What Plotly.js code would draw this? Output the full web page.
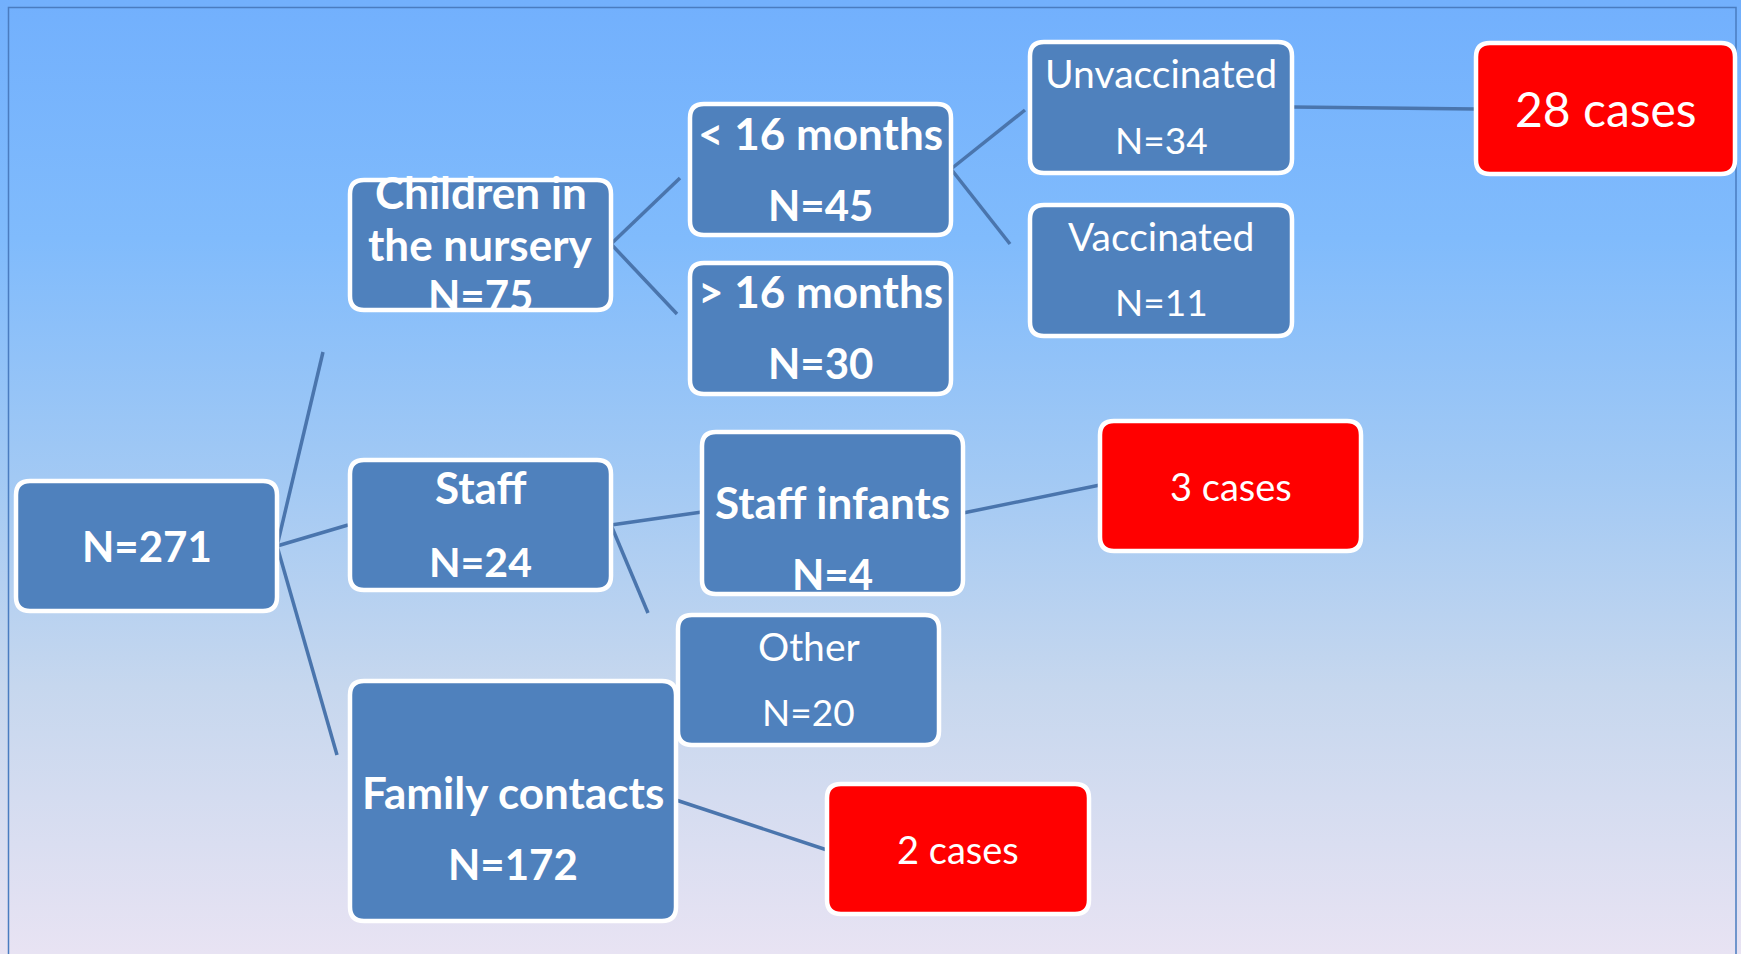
<!DOCTYPE html>
<html>
<head>
<meta charset="utf-8">
<script src="https://cdn.plot.ly/plotly-3.0.1.min.js"></script>
<style>
  html, body { margin: 0; padding: 0; }
  body {
    width: 1741px; height: 954px; overflow: hidden;
    background: linear-gradient(to bottom, #72b0fd 0%, #80bbfc 25%, #a2c9f4 50%, #c6d7ee 72%, #e8e3f3 100%);
  }
  #chart { width: 1741px; height: 954px; }
</style>
</head>
<body>
<div id="chart"></div>
<script>
// ---------- DATA ----------
const groupNames  = ['', 'Children in the nursery', 'Staff', 'Family contacts',
                     '< 16 months', '> 16 months', 'Unvaccinated', 'Vaccinated',
                     'Staff infants', 'Other'];
const groupCounts = [271, 75, 24, 172, 45, 30, 34, 11, 4, 20];
const caseCounts  = [28, 3, 2];

// ---------- LAYOUT GEOMETRY (pixels) ----------
// boxes: [x0, y0, x1, y1]
const groupBoxes = [
  [16, 481, 277, 611],
  [350, 180, 611, 310],
  [350, 460, 611, 590],
  [350, 681, 676, 921],
  [690, 104, 951, 235],
  [690, 263, 951, 394],
  [1030, 42, 1292, 173],
  [1030, 205, 1292, 336],
  [702, 432, 963, 594],
  [678, 615, 939, 745]
];
// text line centres (y) for each group box
const groupLineY = [
  [546],
  [192, 244, 295],
  [487, 561],
  [792, 864],
  [133, 205],
  [291, 363],
  [73, 139],
  [236, 301],
  [502, 574],
  [646, 711]
];
const groupBold      = [true, true, true, true, true, true, false, false, true, false];
const groupNameFont  = [42, 44, 44, 44, 44, 44, 39, 39, 44, 39];
const groupCountFont = [42, 42, 41, 42, 42, 42, 37, 37, 42, 37];

const caseBoxes = [
  [1476, 43, 1735, 174],
  [1100, 421, 1361, 551],
  [827, 784, 1089, 914]
];
const caseLineY = [108, 486, 849];
const caseFont  = [48, 38, 38];

// connector segments: [x0, y0, x1, y1]
const connectors = [
  [277, 546, 323, 352],
  [277, 546, 348, 525],
  [277, 546, 337, 755],
  [611, 244, 680, 178],
  [611, 244, 677, 314],
  [951, 169, 1025, 110],
  [951, 169, 1010, 244],
  [1292, 107, 1476, 109],
  [611, 525, 702, 512],
  [611, 525, 648, 613],
  [963, 513, 1100, 485],
  [676, 800, 827, 850]
];

// ---------- BUILD ----------
function rrect(b, r) {
  const [x0, y0, x1, y1] = b;
  return `M${x0 + r},${y0} L${x1 - r},${y0} Q${x1},${y0} ${x1},${y0 + r} ` +
         `L${x1},${y1 - r} Q${x1},${y1} ${x1 - r},${y1} L${x0 + r},${y1} ` +
         `Q${x0},${y1} ${x0},${y1 - r} L${x0},${y0 + r} Q${x0},${y0} ${x0 + r},${y0} Z`;
}

const shapes = [];
// outer frame
shapes.push({type: 'rect', xref: 'x', yref: 'y', x0: 8.5, y0: 7.5, x1: 1736, y1: 1000,
             line: {color: '#4a7cc0', width: 1.5}, fillcolor: 'rgba(0,0,0,0)'});
connectors.forEach(c => shapes.push({
  type: 'line', xref: 'x', yref: 'y', x0: c[0], y0: c[1], x1: c[2], y1: c[3],
  line: {color: '#4a75ad', width: 3.5}
}));
groupBoxes.forEach(b => shapes.push({
  type: 'path', xref: 'x', yref: 'y', path: rrect(b, 14),
  fillcolor: '#4f81bd', line: {color: '#ffffff', width: 4.5}
}));
caseBoxes.forEach(b => shapes.push({
  type: 'path', xref: 'x', yref: 'y', path: rrect(b, 14),
  fillcolor: '#ff0000', line: {color: '#ffffff', width: 4.5}
}));

const annotations = [];
function addText(txt, x, y, size, bold) {
  annotations.push({
    xref: 'x', yref: 'y', x: x, y: y, text: bold ? '<b>' + txt + '</b>' : txt,
    showarrow: false, xanchor: 'center', yanchor: 'middle',
    font: {family: 'Lato, "Open Sans", sans-serif', size: size, color: '#ffffff'}
  });
}
function wrapName(name, idx) {
  if (idx === 1) return ['Children in', 'the nursery'];
  return name ? [name] : [];
}
groupNames.forEach((name, i) => {
  const b = groupBoxes[i];
  const cx = (b[0] + b[2]) / 2;
  const nameLines = wrapName(name, i);
  nameLines.forEach((t, k) => addText(t, cx, groupLineY[i][k], groupNameFont[i], groupBold[i]));
  addText('N=' + groupCounts[i], cx, groupLineY[i][nameLines.length], groupCountFont[i], groupBold[i]);
});
caseCounts.forEach((n, i) => {
  const b = caseBoxes[i];
  addText(n + ' cases', (b[0] + b[2]) / 2, caseLineY[i], caseFont[i], false);
});

const layout = {
  width: 1741, height: 954,
  margin: {l: 0, r: 0, t: 0, b: 0},
  paper_bgcolor: 'rgba(0,0,0,0)', plot_bgcolor: 'rgba(0,0,0,0)',
  xaxis: {range: [0, 1741], visible: false, fixedrange: true},
  yaxis: {range: [954, 0], visible: false, fixedrange: true},
  showlegend: false,
  shapes: shapes,
  annotations: annotations
};
Plotly.newPlot('chart', [{x: [], y: [], type: 'scatter', mode: 'markers', hoverinfo: 'skip'}],
  layout, {staticPlot: true, displayModeBar: false});
</script>
</body>
</html>
